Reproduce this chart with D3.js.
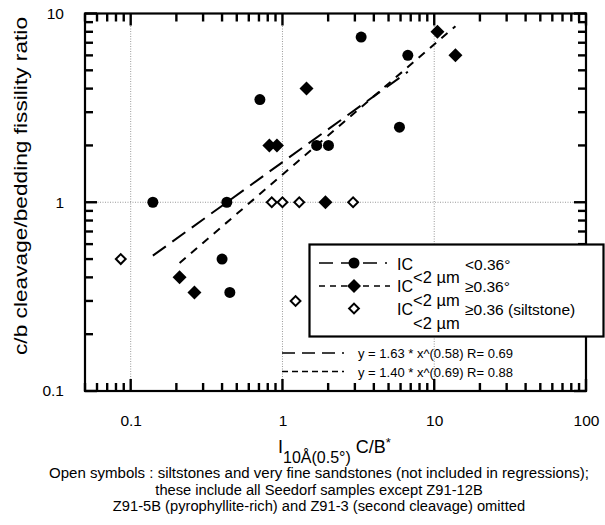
<!DOCTYPE html>
<html><head><meta charset="utf-8">
<script src="https://cdn.jsdelivr.net/npm/d3@7"></script>
<style>body{margin:0;background:#fff} text{font-family:"Liberation Sans",Arial,sans-serif;fill:#000}</style>
</head><body><svg id="c" width="605" height="525"></svg>
<script>
// ---- data ----
const circX = [0.14, 0.43, 0.71, 1.68, 2.01, 3.3, 6.7, 5.9, 0.40, 0.45];
const circY = [1, 1, 3.5, 2, 2, 7.5, 6, 2.5, 0.5, 0.333];
const diamX = [1.44, 0.82, 0.92, 1.92, 10.5, 13.8, 0.21, 0.263];
const diamY = [4, 2, 2, 1, 8, 6, 0.4, 0.333];
const openX = [0.85, 1.0, 1.29, 2.92, 0.086, 1.22];
const openY = [1, 1, 1, 1, 0.5, 0.30];
const fitCoef = [1.63, 1.40];
const fitExp = [0.58, 0.69];
const fitR = [0.69, 0.88];
const xMajor = [0.1, 1, 10, 100];
const yMajor = [0.1, 1, 10];
const xTickLabels = ["0.1", "1", "10", "100"];
const yTickLabels = ["0.1", "1", "10"];
const legendLabels = ["<0.36°", "≥0.36°", "≥0.36 (siltstone)"];
const eqLabels = fitCoef.map((a, i) => `y = ${a.toFixed(2)} * x^(${fitExp[i].toFixed(2)}) R= ${fitR[i].toFixed(2)}`);
const captionLines = [
  "Open symbols : siltstones and very fine sandstones (not included in regressions);",
  "these include all Seedorf samples except Z91-12B",
  "Z91-5B (pyrophyllite-rich) and Z91-3 (second cleavage) omitted"
];

// ---- layout ----
const svg = d3.select("#c");
const L = 85, R = 586, T = 13.5, B = 391;
const x = d3.scaleLog().domain([0.05, 100]).range([L, R]);
const y = d3.scaleLog().domain([0.1, 10]).range([B, T]);

const minorOf = (lo, hi) => {
  const out = [];
  for (let p = Math.floor(Math.log10(lo)); p <= Math.ceil(Math.log10(hi)); p++)
    for (let m = 2; m <= 9; m++) { const v = m * Math.pow(10, p); if (v >= lo && v <= hi) out.push(v); }
  return out;
};
const xMinor = minorOf(0.05, 100);
const yMinor = minorOf(0.1, 10);

// grid
const grid = svg.append("g");
grid.selectAll("line.gx").data([0.1, 1, 10]).join("line").attr("class", "gx")
  .attr("x1", d => x(d)).attr("x2", d => x(d)).attr("y1", T).attr("y2", B)
  .attr("stroke", "#999").attr("stroke-width", 1).attr("stroke-dasharray", "1,1.5");
grid.selectAll("line.gy").data([1]).join("line").attr("class", "gy")
  .attr("x1", L).attr("x2", R).attr("y1", d => y(d)).attr("y2", d => y(d))
  .attr("stroke", "#999").attr("stroke-width", 1).attr("stroke-dasharray", "1,1.5");

// axis labels via d3 axes
function labelAxis(gen, scale, ticks, labels, transform, pad) {
  const a = gen(scale).tickValues(ticks).tickSize(0).tickPadding(pad).tickFormat((d, i) => labels[i]);
  const s = svg.append("g").attr("transform", transform).call(a);
  s.select(".domain").remove();
  s.selectAll("text").style("font-size", "15.5px").attr("fill", "#000");
}
labelAxis(d3.axisBottom, x, xMajor, xTickLabels, `translate(0,${B})`, 24);
labelAxis(d3.axisLeft, y, yMajor, yTickLabels, `translate(${L},0)`, 21);

// inward tick marks on all four sides
const tk = svg.append("g").attr("stroke", "#000").attr("stroke-width", 2.4);
const xTicks = xMajor.map(v => ({v, s: 12})).concat(xMinor.map(v => ({v, s: 8})));
const yTicks = yMajor.map(v => ({v, s: 12})).concat(yMinor.map(v => ({v, s: 8})));
tk.selectAll("line.xb").data(xTicks).join("line").attr("class", "xb")
  .attr("x1", d => x(d.v)).attr("x2", d => x(d.v)).attr("y1", B).attr("y2", d => B - d.s);
tk.selectAll("line.xt").data(xTicks).join("line").attr("class", "xt")
  .attr("x1", d => x(d.v)).attr("x2", d => x(d.v)).attr("y1", T).attr("y2", d => T + d.s);
tk.selectAll("line.yl").data(yTicks).join("line").attr("class", "yl")
  .attr("y1", d => y(d.v)).attr("y2", d => y(d.v)).attr("x1", L).attr("x2", d => L + d.s);
tk.selectAll("line.yr").data(yTicks).join("line").attr("class", "yr")
  .attr("y1", d => y(d.v)).attr("y2", d => y(d.v)).attr("x1", R).attr("x2", d => R - d.s);

svg.append("rect").attr("x", L).attr("y", T).attr("width", R - L).attr("height", B - T)
  .attr("fill", "none").attr("stroke", "#000").attr("stroke-width", 2.2);

// regression lines
const dashes = ["16,8", "8,7"];
const ranges = [d3.extent(circX), d3.extent(diamX)];
const line = d3.line().x(d => x(d[0])).y(d => y(d[1]));
fitCoef.forEach((a, i) => {
  const pts = ranges[i].map(v => [v, a * Math.pow(v, fitExp[i])]);
  svg.append("path").attr("d", line(pts)).attr("fill", "none").attr("stroke", "#000")
    .attr("stroke-width", 2).attr("stroke-dasharray", dashes[i]);
});

// markers
const sq = d3.symbol().type(d3.symbolSquare);
svg.selectAll("circle.pt").data(circX).join("circle").attr("class", "pt")
  .attr("cx", d => x(d)).attr("cy", (d, i) => y(circY[i])).attr("r", 5.5).attr("fill", "#000");
svg.selectAll("path.fd").data(diamX).join("path").attr("class", "fd")
  .attr("d", sq.size(98)()).attr("transform", (d, i) => `translate(${x(d)},${y(diamY[i])}) rotate(45)`)
  .attr("fill", "#000");
svg.selectAll("path.od").data(openX).join("path").attr("class", "od")
  .attr("d", sq.size(48)()).attr("transform", (d, i) => `translate(${x(d)},${y(openY[i])}) rotate(45)`)
  .attr("fill", "#fff").attr("stroke", "#000").attr("stroke-width", 2);

// legend
const lg = svg.append("g");
lg.append("rect").attr("x", 309.5).attr("y", 244.5).attr("width", 294).attr("height", 92)
  .attr("fill", "#fff").attr("stroke", "#000").attr("stroke-width", 2.2);
const rowY = [263, 286, 308.5];
lg.append("line").attr("x1", 319).attr("x2", 387).attr("y1", rowY[0]).attr("y2", rowY[0])
  .attr("stroke", "#000").attr("stroke-width", 1.6).attr("stroke-dasharray", "14,8");
lg.append("line").attr("x1", 319).attr("x2", 390).attr("y1", rowY[1]).attr("y2", rowY[1])
  .attr("stroke", "#000").attr("stroke-width", 1.6).attr("stroke-dasharray", "6,5");
lg.append("circle").attr("cx", 354).attr("cy", rowY[0]).attr("r", 5.5).attr("fill", "#000");
lg.append("path").attr("d", sq.size(98)()).attr("transform", `translate(354,${rowY[1]}) rotate(45)`).attr("fill", "#000");
lg.append("path").attr("d", sq.size(48)()).attr("transform", `translate(354,${rowY[2]}) rotate(45)`)
  .attr("fill", "#fff").attr("stroke", "#000").attr("stroke-width", 2);
const textBase = [269.5, 292, 315];
legendLabels.forEach((t, i) => {
  lg.append("text").attr("x", 397).attr("y", textBase[i]).style("font-size", "16px").text("IC");
  lg.append("text").attr("x", 413).attr("y", textBase[i] + 13.5).style("font-size", "16.5px").text("<2 µm");
  lg.append("text").attr("x", 465).attr("y", textBase[i]).style("font-size", "15.5px").text(t);
});

// equations
const eqY = [353, 371.5];
const eqBase = [358, 376.5];
eqLabels.forEach((t, i) => {
  svg.append("line").attr("x1", 282).attr("x2", 344).attr("y1", eqY[i]).attr("y2", eqY[i])
    .attr("stroke", "#000").attr("stroke-width", 1.6).attr("stroke-dasharray", i === 0 ? "13,7" : "6,4");
  svg.append("text").attr("x", 358).attr("y", eqBase[i]).style("font-size", "13px").text(t);
});

// axis titles
svg.append("text").attr("transform", "translate(27,186) rotate(-90)").attr("text-anchor", "middle")
  .attr("textLength", 338).attr("lengthAdjust", "spacingAndGlyphs")
  .style("font-size", "19px").text("c/b cleavage/bedding fissility ratio");
const xt = svg.append("text").attr("x", 278).attr("y", 453).style("font-size", "18px");
xt.append("tspan").text("I");
xt.append("tspan").attr("dy", 10).style("font-size", "16px").text("10Å(0.5°)");
xt.append("tspan").attr("dy", -10).text(" C/B");
xt.append("tspan").attr("dy", -6).style("font-size", "13px").text("*");

captionLines.forEach((t, i) => {
  svg.append("text").attr("x", 319).attr("y", 478 + i * 16.5).attr("text-anchor", "middle")
    .attr("textLength", i === 0 ? 540 : null).attr("lengthAdjust", "spacingAndGlyphs")
    .style("font-size", "14.7px").text(t);
});
</script></body></html>
